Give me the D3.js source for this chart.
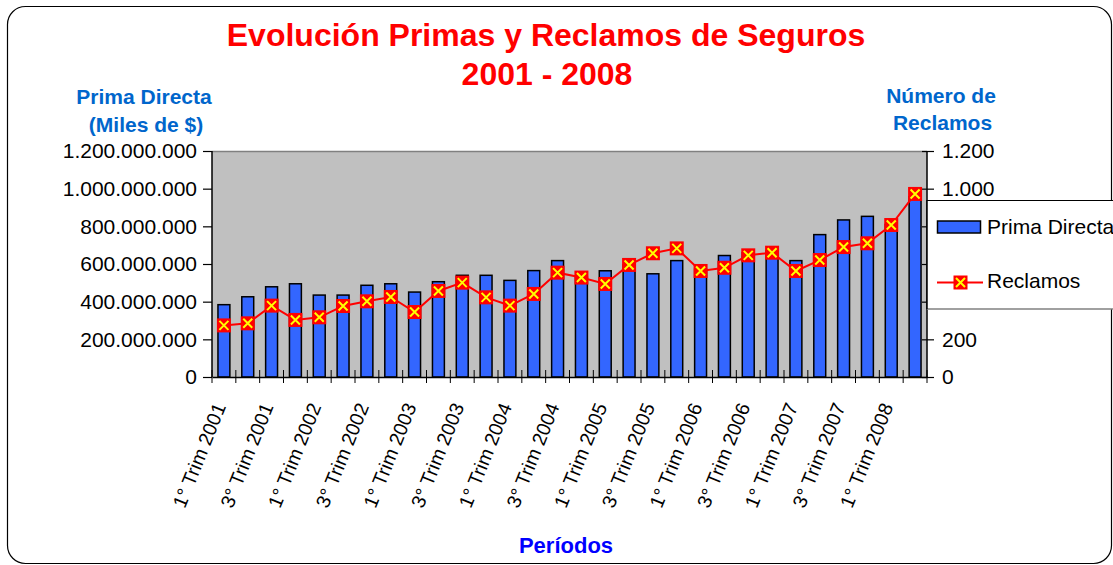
<!DOCTYPE html>
<head>
<meta charset="utf-8">
<style>
body { margin: 0; background: #fff; }
svg { display: block; font-family: "Liberation Sans", Arial, sans-serif; }
.tick text { font-size: 21px; fill: #000; }
</style>
</head>
<body>
<svg width="1113" height="565"></svg>
<script src="https://d3js.org/d3.v7.min.js"></script>
<script>
// quarters 2001 - 2008 (only odd quarters get a label)
var periodos = [];
[2001, 2002, 2003, 2004, 2005, 2006, 2007, 2008].forEach(function(yr) {
  for (var q = 1; q <= 4; q++) periodos.push(q + "° Trim " + yr);
});
periodos = periodos.slice(0, 30);

// Prima directa (miles de $)
var prima = [384e6, 426e6, 479e6, 495e6, 435e6, 435e6, 487e6, 495e6, 451e6, 506e6,
             540e6, 540e6, 513e6, 565e6, 618e6, 530e6, 564e6, 595e6, 548e6, 618e6,
             572e6, 645e6, 660e6, 670e6, 618e6, 756e6, 834e6, 853e6, 810e6, 957e6];
// numero de reclamos
var reclamos = [274, 285, 379, 303, 317, 377, 402, 425, 345, 457,
                501, 423, 379, 441, 554, 528, 494, 595, 657, 683,
                563, 580, 646, 660, 563, 621, 690, 710, 807, 972];

var leftTicks = [0, 2e8, 4e8, 6e8, 8e8, 10e8, 12e8];
var rightTicks = [0, 200, 400, 600, 800, 1000, 1200];

var svg = d3.select("svg"),
    pLeft = 212, pRight = 927, pTop = 151, pBottom = 377;

var es = d3.formatLocale({decimal: ",", thousands: ".", grouping: [3], currency: ["$", ""]});
var fmt = es.format(",d");

var x = d3.scaleBand().domain(periodos).range([pLeft, pRight]).paddingInner(0.5).paddingOuter(0.25);
var y = d3.scaleLinear().domain([0, 1.2e9]).range([pBottom, pTop]);
var y2 = d3.scaleLinear().domain([0, 1200]).range([pBottom, pTop]);

// outer frame
svg.append("rect")
    .attr("x", 7.5).attr("y", 6.5).attr("width", 1104).attr("height", 557)
    .attr("rx", 18).attr("fill", "#fff").attr("stroke", "#000").attr("stroke-width", 1.2);

// plot background
svg.append("rect")
    .attr("x", pLeft).attr("y", pTop).attr("width", pRight - pLeft).attr("height", pBottom - pTop)
    .attr("fill", "#c0c0c0");
svg.append("line")
    .attr("x1", pLeft).attr("x2", pRight).attr("y1", pTop + 0.5).attr("y2", pTop + 0.5)
    .attr("stroke", "#808080").attr("stroke-width", 1.5);

// bars
svg.append("g").selectAll("rect")
  .data(prima)
  .enter().append("rect")
    .attr("x", function(d, i) { return x(periodos[i]); })
    .attr("y", function(d) { return y(d); })
    .attr("width", x.bandwidth())
    .attr("height", function(d) { return pBottom - y(d); })
    .attr("fill", "#3366ff")
    .attr("stroke", "#000")
    .attr("stroke-width", 1.5);

// axes
var yAxis = svg.append("g")
    .attr("transform", "translate(" + pLeft + ",0)")
    .call(d3.axisLeft(y).tickValues(leftTicks).tickFormat(fmt).tickSize(9).tickPadding(6));
var y2Axis = svg.append("g")
    .attr("transform", "translate(" + pRight + ",0)")
    .call(d3.axisRight(y2).tickValues(rightTicks).tickFormat(fmt).tickSize(7).tickPadding(8));
y2Axis.selectAll(".tick line").attr("x1", -5);

var xAxis = svg.append("g")
    .attr("transform", "translate(0," + pBottom + ")")
    .call(d3.axisBottom(x).tickValues([]).tickSize(0));

// boundary ticks between quarters
svg.append("g").selectAll("line")
  .data(d3.range(periodos.length + 1))
  .enter().append("line")
    .attr("x1", function(i) { return pLeft + i * x.step(); })
    .attr("x2", function(i) { return pLeft + i * x.step(); })
    .attr("y1", pBottom - 7).attr("y2", pBottom + 6)
    .attr("stroke", "#000").attr("stroke-width", 1);

svg.selectAll(".domain").attr("stroke", "#000").attr("stroke-width", 1.5);
svg.selectAll(".tick line").attr("stroke", "#000").attr("stroke-width", 1.2);
y2Axis.select(".domain").attr("d", "M0," + pTop + "V" + pBottom);
yAxis.select(".domain").attr("d", "M0," + pTop + "V" + pBottom);

// category labels, every other quarter
svg.append("g").selectAll("text")
  .data(periodos.filter(function(d, i) { return i % 2 === 0; }))
  .enter().append("text")
    .attr("transform", function(d) {
      return "translate(" + (x(d) + x.bandwidth() / 2 - 4) + "," + (pBottom + 27) + ") rotate(-68)";
    })
    .attr("text-anchor", "end")
    .attr("dy", "0.35em")
    .style("font-size", "19.5px")
    .text(function(d) { return d; });

// reclamos line + markers
var line = d3.line()
    .x(function(d, i) { return x(periodos[i]) + x.bandwidth() / 2; })
    .y(function(d) { return y2(d); });
svg.append("path")
    .datum(reclamos)
    .attr("d", line)
    .attr("fill", "none")
    .attr("stroke", "#ff0000")
    .attr("stroke-width", 2);

function marker(g) {
  g.append("rect").attr("x", -7).attr("y", -7).attr("width", 14).attr("height", 14).attr("fill", "#ff0000");
  g.append("path").attr("d", "M-4.5,-4.5L4.5,4.5M-4.5,4.5L4.5,-4.5")
      .attr("stroke", "#ffff00").attr("stroke-width", 2);
}
svg.append("g").selectAll("g")
  .data(reclamos)
  .enter().append("g")
    .attr("transform", function(d, i) {
      return "translate(" + (x(periodos[i]) + x.bandwidth() / 2) + "," + y2(d) + ")";
    })
    .each(function() { marker(d3.select(this)); });

// legend (covers part of the right axis)
var legend = svg.append("g");
legend.append("rect")
    .attr("x", pRight).attr("y", 200).attr("width", 200).attr("height", 109)
    .attr("fill", "#fff");
legend.append("line").attr("x1", pRight).attr("x2", 1113).attr("y1", 200.5).attr("y2", 200.5)
    .attr("stroke", "#000").attr("stroke-width", 1.2);
legend.append("line").attr("x1", pRight).attr("x2", 1113).attr("y1", 309).attr("y2", 309)
    .attr("stroke", "#808080").attr("stroke-width", 1.5);
legend.append("line").attr("x1", pRight).attr("x2", pRight).attr("y1", 200).attr("y2", 309)
    .attr("stroke", "#000").attr("stroke-width", 1.5);
legend.append("rect")
    .attr("x", 937.5).attr("y", 221).attr("width", 43).attr("height", 12)
    .attr("fill", "#3366ff").attr("stroke", "#000").attr("stroke-width", 1.5);
legend.append("text").attr("x", 987).attr("y", 227).attr("dy", "0.35em")
    .style("font-size", "21px").text("Prima Directa");
legend.append("line").attr("x1", 937).attr("x2", 983).attr("y1", 282.5).attr("y2", 282.5)
    .attr("stroke", "#ff0000").attr("stroke-width", 2);
marker(legend.append("g").attr("transform", "translate(960.5,282.5)"));
legend.append("text").attr("x", 987).attr("y", 281).attr("dy", "0.35em")
    .style("font-size", "21px").text("Reclamos");

// titles
svg.append("text").attr("x", 546).attr("y", 46).attr("text-anchor", "middle")
    .style("font-size", "32px").style("font-weight", "bold").attr("fill", "#ff0000")
    .text("Evolución Primas y Reclamos de Seguros");
svg.append("text").attr("x", 547).attr("y", 85).attr("text-anchor", "middle")
    .style("font-size", "32px").style("font-weight", "bold").attr("fill", "#ff0000")
    .text("2001 - 2008");

var axisTitle = [["Prima Directa", 144, 104], ["(Miles de $)", 146, 131.5],
                 ["Número de", 941, 103], ["Reclamos", 942.5, 130]];
svg.append("g").selectAll("text")
  .data(axisTitle)
  .enter().append("text")
    .attr("x", function(d) { return d[1]; })
    .attr("y", function(d) { return d[2]; })
    .attr("text-anchor", "middle")
    .style("font-size", "21px").style("font-weight", "bold")
    .attr("fill", "#0066cc")
    .text(function(d) { return d[0]; });

svg.append("text").attr("x", 566).attr("y", 553).attr("text-anchor", "middle")
    .style("font-size", "22px").style("font-weight", "bold").attr("fill", "#0000ff")
    .text("Períodos");
</script>
</body>
